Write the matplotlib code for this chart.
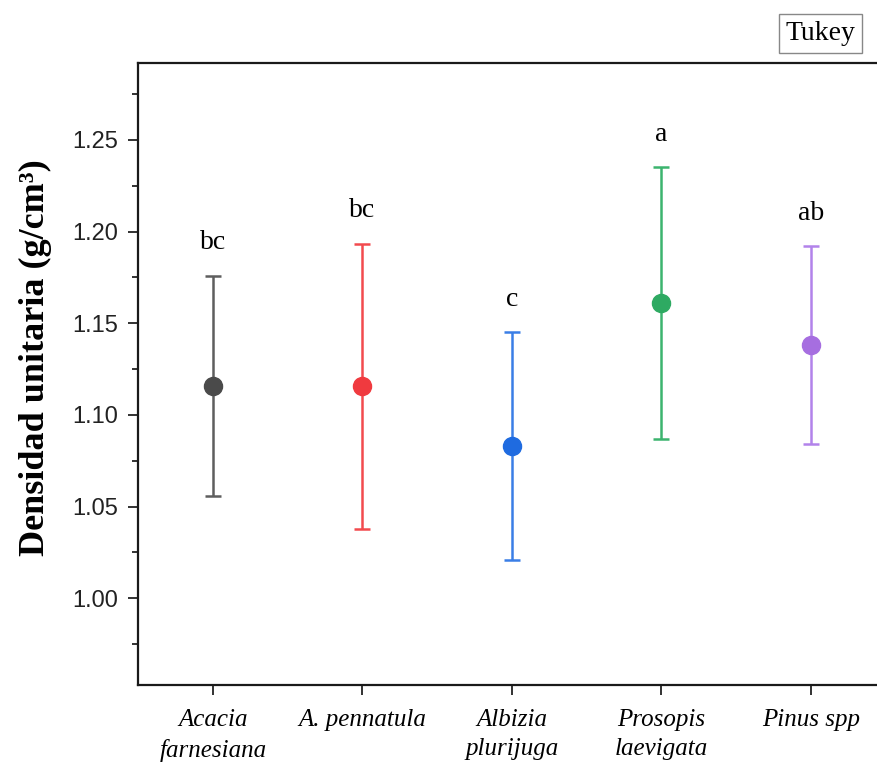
"""
Densidad unitaria por especie, media con barras de error y letras de Tukey
"""

import matplotlib.pyplot as plt
from matplotlib.ticker import MultipleLocator

especies = ["Acacia\nfarnesiana", "A. pennatula", "Albizia\nplurijuga",
            "Prosopis\nlaevigata", "Pinus spp"]
media = [1.116, 1.1155, 1.083, 1.161, 1.138]
error = [0.060, 0.078, 0.062, 0.074, 0.054]
letras = ["bc", "bc", "c", "a", "ab"]

colores = ["#4a4a4a", "#f03a3f", "#1f6be0", "#2eaa62", "#a66ee0"]
colores_barra = ["#5e5e5e", "#f24a4e", "#3a7ee6", "#3cb46e", "#b283ea"]

fig = plt.figure(figsize=(8.78, 7.63), dpi=100)
ax = fig.add_axes([0.1572, 0.1022, 0.8515, 0.8152])

pos = range(1, len(especies) + 1)
for x, m, e, c, cb, l in zip(pos, media, error, colores, colores_barra, letras):
    ax.errorbar(x, m, yerr=e, fmt='none', ecolor=cb, elinewidth=1.8,
                capsize=6, capthick=1.8, zorder=2)
    ax.plot(x, m, 'o', color=c, markersize=13, zorder=3)
    ax.text(x, m + e + 0.011, l, ha='center', va='bottom',
            family='Liberation Serif', fontsize=20)

ax.set_xlim(0.5, 5.5)
ax.set_ylim(0.9526, 1.292)
ax.set_xticks(list(pos))
ax.set_xticklabels(especies, family='Liberation Serif', style='italic',
                   fontsize=18, linespacing=1.45)
ax.yaxis.set_major_locator(MultipleLocator(0.05))
ax.yaxis.set_minor_locator(MultipleLocator(0.025))
ax.yaxis.set_major_formatter(plt.FormatStrFormatter('%.2f'))
for t in ax.get_yticklabels():
    t.set_family('Liberation Sans')
    t.set_fontsize(17)
    t.set_color('#222222')

ax.tick_params(axis='both', which='major', direction='out', length=7,
               width=1.3, color='#222222')
ax.tick_params(axis='x', which='major', pad=10)
ax.tick_params(axis='y', which='major', pad=7)
ax.tick_params(axis='y', which='minor', direction='out', length=4,
               width=1.3, color='#222222')
for s in ax.spines.values():
    s.set_linewidth(1.6)
    s.set_color('#1a1a1a')

ax.set_ylabel("Densidad unitaria (g/cm³)", family='Liberation Serif',
              fontweight='bold', fontsize=26)
ax.yaxis.set_label_coords(-0.115, 0.526)

fig.text(0.9345, 0.9563, "Tukey", ha='center', va='center',
         family='Liberation Serif', fontsize=20,
         bbox=dict(boxstyle='square,pad=0.25', fc='white', ec='#888888', lw=1))

fig.savefig("out.png", dpi=100)
